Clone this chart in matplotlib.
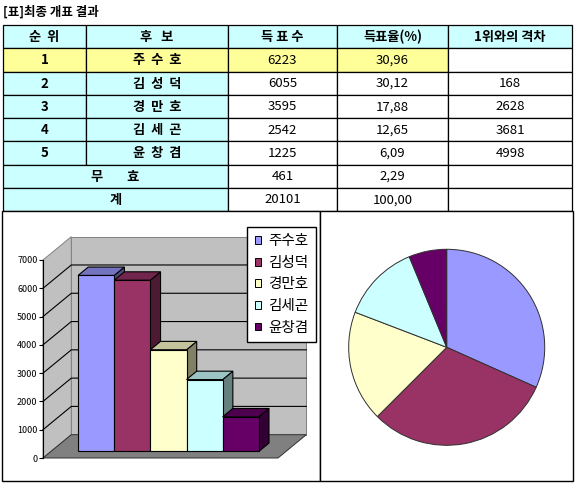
import numpy as np
import matplotlib
matplotlib.use("Agg")
import matplotlib.pyplot as plt
from matplotlib.patches import Rectangle, Polygon, Patch

plt.rcParams['font.family'] = ['Noto Sans CJK KR', 'DejaVu Sans']

# data
ranks = ['1', '2', '3', '4', '5']
candidates = ['주수호', '김성덕', '경만호', '김세곤', '윤창겸']
votes = [6223, 6055, 3595, 2542, 1225]
vote_rates = [30.96, 30.12, 17.88, 12.65, 6.09]
invalid_votes = 461
invalid_rate = 2.29
total_votes = 20101
total_rate = 100.00
headers = ['순  위', '후   보', '득 표 수', '득표율(%)', '1위와의 격차']
y_ticks = [0, 1000, 2000, 3000, 4000, 5000, 6000, 7000]

front_colors = ['#9999FF', '#993366', '#FFFFCC', '#CCFFFF', '#660066']
top_colors = ['#7373BF', '#73264D', '#C4C49C', '#9CC4C4', '#4D004D']
side_colors = ['#4D4D80', '#4D1A33', '#808066', '#668080', '#330033']

W, H = 575, 484
fig = plt.figure(figsize=(W / 100, H / 100), dpi=100)


def fx(px):
    return px / W


def fy(py):
    return 1 - py / H


# page canvas in pixel coords (table, boxes, title)
canvas = fig.add_axes([0, 0, 1, 1])
canvas.set_xlim(0, W)
canvas.set_ylim(H, 0)
canvas.axis('off')

canvas.text(3, 12, '[표]최종 개표 결과', fontsize=9, fontweight='bold', va='center', ha='left')

col_edges = [3, 86, 228, 337, 448, 572]
row_top, row_h = 25, 23.25
cyan, yellow = '#CCFFFF', '#FFFF99'


def cell(c0, c1, r, text, color, bold=False):
    x0, x1 = col_edges[c0], col_edges[c1]
    y0 = row_top + r * row_h
    canvas.add_patch(Rectangle((x0, y0), x1 - x0, row_h, facecolor=color,
                               edgecolor='black', linewidth=0.9))
    canvas.text((x0 + x1) / 2, y0 + row_h / 2 + 0.5, text, ha='center', va='center',
                fontsize=9.5, fontweight='bold' if bold else 'normal')


def fmt_rate(v):
    return f'{v:.2f}'.replace('.', ',')


for c, h in enumerate(headers):
    cell(c, c + 1, 0, h, cyan, bold=True)

for i in range(len(candidates)):
    r = i + 1
    first = i == 0
    gap = '' if first else str(votes[0] - votes[i])
    cell(0, 1, r, ranks[i], yellow if first else cyan, bold=True)
    cell(1, 2, r, '  '.join(candidates[i]), yellow if first else cyan, bold=True)
    cell(2, 3, r, str(votes[i]), yellow if first else 'white')
    cell(3, 4, r, fmt_rate(vote_rates[i]), yellow if first else 'white')
    cell(4, 5, r, gap, 'white')

cell(0, 2, 6, '무        효', cyan, bold=True)
cell(2, 3, 6, str(invalid_votes), 'white')
cell(3, 4, 6, fmt_rate(invalid_rate), 'white')
cell(4, 5, 6, '', 'white')
cell(0, 2, 7, '계', cyan, bold=True)
cell(2, 3, 7, str(total_votes), 'white')
cell(3, 4, 7, fmt_rate(total_rate), 'white')
cell(4, 5, 7, '', 'white')

# chart boxes
canvas.add_patch(Rectangle((2, 211), 318, 270, facecolor='white', edgecolor='black', linewidth=1))
canvas.add_patch(Rectangle((320, 211), 253, 270, facecolor='white', edgecolor='black', linewidth=1))

# 3D-look column chart, axes = front plane
ax = fig.add_axes([fx(43), fy(458), (278 - 43) / W, (458 - 260) / H])
XMAX, YMAX = 6.5, 7000
ax.set_xlim(0, XMAX)
ax.set_ylim(0, YMAX)
DX, DY = 0.783, 824     # full depth offset in data units
F0, FD = 0.28, 0.36     # bar front position / bar depth as fraction of depth

ax.add_patch(Polygon([(DX, DY), (XMAX + DX, DY), (XMAX + DX, YMAX + DY), (DX, YMAX + DY)],
                     closed=True, facecolor='#C0C0C0', edgecolor='#808080', linewidth=0.7,
                     clip_on=False, zorder=1))
ax.add_patch(Polygon([(0, 0), (DX, DY), (DX, YMAX + DY), (0, YMAX)],
                     closed=True, facecolor='#C0C0C0', edgecolor='#808080', linewidth=0.7,
                     clip_on=False, zorder=1))
ax.add_patch(Polygon([(0, 0), (XMAX, 0), (XMAX + DX, DY), (DX, DY)],
                     closed=True, facecolor='#808080', edgecolor='#303030', linewidth=0.7,
                     clip_on=False, zorder=1))
for v in y_ticks[1:-1]:
    ax.plot([0, DX, XMAX + DX], [v, v + DY, v + DY], color='black', linewidth=0.8,
            clip_on=False, zorder=1.5)

for i, v in enumerate(votes):
    x0 = 0.75 + i + F0 * DX
    b = F0 * DY
    ddx, ddy = FD * DX, FD * DY
    kw = dict(closed=True, edgecolor='black', linewidth=0.8, clip_on=False, zorder=3)
    ax.add_patch(Polygon([(x0 + 1, b), (x0 + 1 + ddx, b + ddy), (x0 + 1 + ddx, b + v + ddy),
                          (x0 + 1, b + v)], facecolor=side_colors[i], **kw))
    ax.add_patch(Polygon([(x0, b + v), (x0 + 1, b + v), (x0 + 1 + ddx, b + v + ddy),
                          (x0 + ddx, b + v + ddy)], facecolor=top_colors[i], **kw))
    ax.add_patch(Polygon([(x0, b), (x0 + 1, b), (x0 + 1, b + v), (x0, b + v)],
                         facecolor=front_colors[i], **kw))

for s in ['top', 'right', 'bottom']:
    ax.spines[s].set_visible(False)
ax.spines['left'].set_linewidth(0.8)
ax.patch.set_visible(False)
ax.set_xticks([])
ax.set_yticks(y_ticks)
ax.tick_params(axis='y', direction='out', length=3, width=0.8, pad=1, labelsize=6.5)

handles = [Patch(facecolor=c, edgecolor='black', linewidth=0.7) for c in front_colors]
fig.legend(handles, candidates, loc='upper right', bbox_to_anchor=(fx(316), fy(227)),
           fontsize=10.5, handlelength=0.45, handleheight=0.45, handletextpad=0.5,
           labelspacing=0.52, borderpad=0.5, borderaxespad=0, fancybox=False,
           framealpha=1, edgecolor='black')

# pie chart
R = 99
pax = fig.add_axes([fx(446.7 - R), fy(347.3 + R), 2 * R / W, 2 * R / H])
pax.pie(votes, colors=front_colors, startangle=90, counterclock=False,
        wedgeprops=dict(edgecolor='#303030', linewidth=0.7))
pax.set_xlim(-1.01, 1.01)
pax.set_ylim(-1.01, 1.01)

fig.savefig('out.png', dpi=100)
